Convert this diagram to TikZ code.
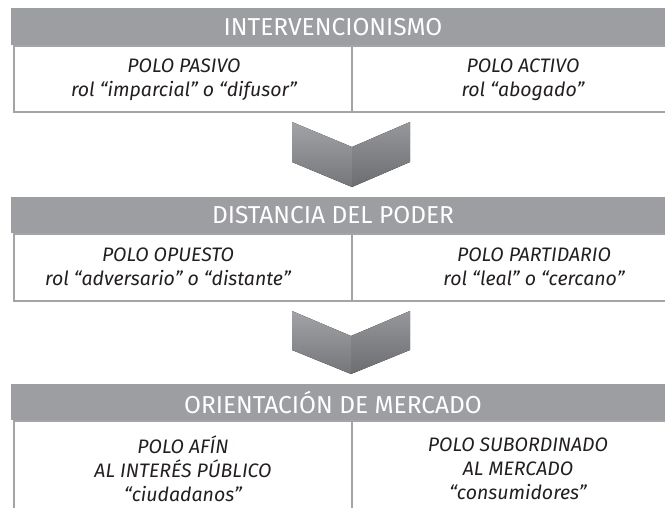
\documentclass[tikz,border=0pt]{standalone}
\usepackage{fontspec}
\setmainfont{Fira Sans}
\definecolor{hdr}{HTML}{9D9EA2}
\definecolor{brd}{HTML}{A4A4A8}
\definecolor{txt}{HTML}{231F20}
\definecolor{chtopL}{HTML}{A2A3A7}
\definecolor{chbotL}{HTML}{75767A}
\definecolor{chtopR}{HTML}{96979B}
\definecolor{chbotR}{HTML}{6C6D71}
\begin{document}
\begin{tikzpicture}[x=1pt,y=-1pt,
  hdrbox/.style={fill=hdr, draw=none, inner sep=0pt, anchor=north west, minimum width=679pt},
  cellbox/.style={draw=brd, line width=2pt, inner sep=0pt, anchor=north west, minimum width=338pt},
  hdrtext/.style={text=white, font=\fontsize{24.5}{28}\selectfont, inner sep=0pt},
  celltext/.style={text=txt, font=\fontsize{19.5}{24}\selectfont\itshape, align=center, inner sep=0pt},
  chevL/.style={top color=chtopL, bottom color=chbotL, draw=none},
  chevR/.style={top color=chtopR, bottom color=chbotR, draw=none}
]
\useasboundingbox (0,0) rectangle (665,507);
\clip (0,0) rectangle (665,507);

% ---------- Block 1 ----------
\node[hdrbox, minimum height=37pt] (h1) at (11,8) {};
\node[hdrtext] (h1t) at (333,27) {INTERVENCIONISMO};
\node[cellbox, minimum height=66pt] (c1l) at (13,45) {};
\node[cellbox, minimum height=66pt] (c1r) at (351,45) {};
\node[celltext] (t1l) at (184,80) {POLO PASIVO\\rol “imparcial” o “difusor”};
\node[celltext] (t1r) at (523,80) {POLO ACTIVO\\rol “abogado”};

% chevron 1
\fill[chevL] (292,122) -- (352,147) -- (352,187) -- (292,162) -- cycle;
\fill[chevR] (352,147) -- (410,122) -- (410,162) -- (352,187) -- cycle;

% ---------- Block 2 ----------
\node[hdrbox, minimum height=36pt] (h2) at (11,197) {};
\node[hdrtext] (h2t) at (333,215) {DISTANCIA DEL PODER};
\node[cellbox, minimum height=67pt] (c2l) at (13,233) {};
\node[cellbox, minimum height=67pt] (c2r) at (351,233) {};
\node[celltext] (t2l) at (168,267) {POLO OPUESTO\\rol “adversario” o “distante”};
\node[celltext] (t2r) at (534,267) {POLO PARTIDARIO\\rol “leal” o “cercano”};

% chevron 2
\fill[chevL] (292,311) -- (351,336) -- (351,374) -- (292,350) -- cycle;
\fill[chevR] (351,336) -- (410,311) -- (410,350) -- (351,374) -- cycle;

% ---------- Block 3 ----------
\node[hdrbox, minimum height=36pt] (h3) at (11,384) {};
\node[hdrtext] (h3t) at (333,402) {ORIENTACIÓN DE MERCADO};
\node[cellbox, minimum height=110pt] (c3l) at (13,420) {};
\node[cellbox, minimum height=110pt] (c3r) at (351,420) {};
\node[celltext] (t3l) at (183,469) {POLO AFÍN\\AL INTERÉS PÚBLICO\\“ciudadanos”};
\node[celltext] (t3r) at (518,469) {POLO SUBORDINADO\\AL MERCADO\\“consumidores”};
\end{tikzpicture}
\end{document}
